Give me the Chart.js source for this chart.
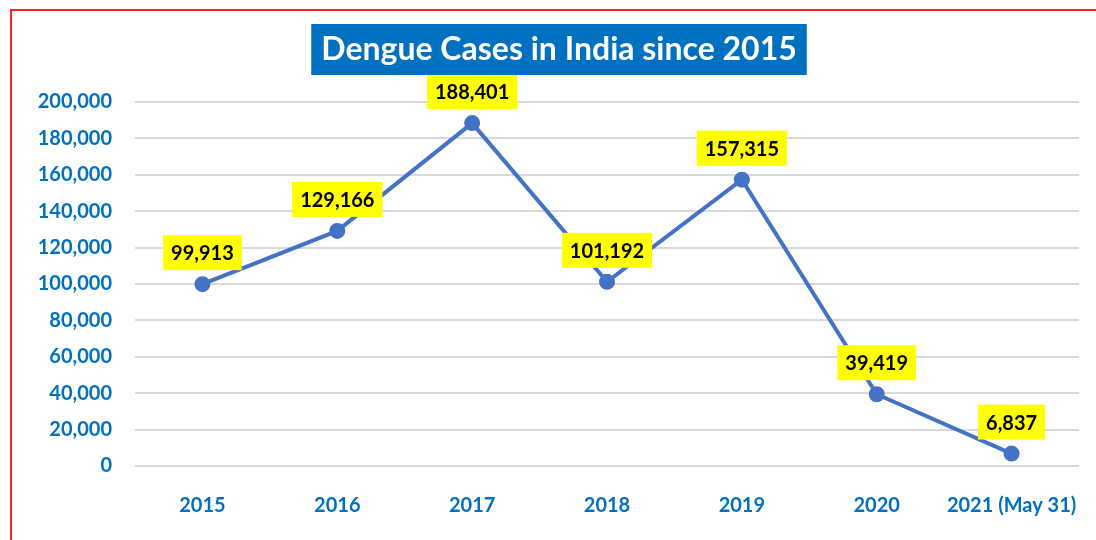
<!DOCTYPE html>
<html>
<head>
<meta charset="utf-8">
<script src="https://cdn.jsdelivr.net/npm/chart.js@4"></script>
<style>
  html, body { margin: 0; padding: 0; background: #fff; overflow: hidden; }
  #frame { position: absolute; left: 10px; top: 9px; width: 1200px; height: 700px;
           border-left: 2px solid #ff2020; border-top: 2px solid #ff2020; }
  #wrap { position: absolute; left: 0; top: 0; width: 1096px; height: 540px; }
</style>
</head>
<body>
<div id="frame"></div>
<div id="wrap"><canvas id="myChart" width="1096" height="540"></canvas></div>
<script>
// chart data
const years = ['2015', '2016', '2017', '2018', '2019', '2020', '2021 (May 31)'];
const cases = [99913, 129166, 188401, 101192, 157315, 39419, 6837];
const yTicks = [0, 20000, 40000, 60000, 80000, 100000, 120000, 140000, 160000, 180000, 200000];
const chartTitle = 'Dengue Cases in India since 2015';

const blue = '#0070C0';
const lineBlue = '#4472C4';
const fontFam = 'Lato, "Open Sans", sans-serif';

const fmt = v => v.toLocaleString('en-US');

// yellow boxes above points
const labelBoxes = {
  id: 'labelBoxes',
  afterDatasetsDraw(chart) {
    const ctx = chart.ctx;
    const meta = chart.getDatasetMeta(0);
    ctx.save();
    ctx.font = 'bold 20px ' + fontFam;
    ctx.textAlign = 'center';
    ctx.textBaseline = 'middle';
    meta.data.forEach((pt, i) => {
      const txt = fmt(cases[i]);
      const w = ctx.measureText(txt).width + 16;
      const h = 35;
      const bottom = pt.y - 14;
      ctx.fillStyle = '#FFFF00';
      ctx.fillRect(pt.x - w / 2, bottom - h, w, h);
      ctx.fillStyle = '#000';
      ctx.fillText(txt, pt.x, bottom - h / 2 + 1);
    });
    ctx.restore();
  }
};

// title with blue background
const titleBox = {
  id: 'titleBox',
  afterDraw(chart) {
    const ctx = chart.ctx;
    ctx.save();
    ctx.font = 'bold 32px ' + fontFam;
    const tw = ctx.measureText(chartTitle).width;
    const cx = 559;
    const w = tw + 20;
    ctx.fillStyle = blue;
    ctx.fillRect(cx - w / 2, 24, w, 51);
    ctx.fillStyle = '#fff';
    ctx.textAlign = 'center';
    ctx.textBaseline = 'middle';
    ctx.fillText(chartTitle, cx, 50);
    ctx.restore();
  }
};

const config = {
  type: 'line',
  data: {
    labels: years,
    datasets: [{
      label: 'Dengue Cases',
      data: cases,
      borderColor: lineBlue,
      backgroundColor: lineBlue,
      borderWidth: 4,
      pointRadius: 6,
      pointHoverRadius: 6,
      pointBackgroundColor: lineBlue,
      pointBorderColor: lineBlue,
      tension: 0
    }]
  },
  options: {
    responsive: false,
    animation: false,
    events: [],
    layout: { padding: { top: 102, right: 17, bottom: 0, left: 0 } },
    plugins: {
      legend: { display: false },
      title: { display: false },
      tooltip: { enabled: false }
    },
    scales: {
      x: {
        offset: true,
        grid: { display: false, drawTicks: false },
        border: { display: false },
        ticks: { color: blue, font: { family: fontFam, size: 20, weight: 'bold' }, padding: 28, maxRotation: 0, autoSkip: false },
        afterFit(scale) {
          scale.height = 74;
          scale.paddingLeft = 0;
          scale.paddingRight = 0;
        }
      },
      y: {
        min: 0,
        max: 200000,
        afterBuildTicks(scale) { scale.ticks = yTicks.map(v => ({ value: v })); },
        grid: { color: '#d9d9d9', lineWidth: 2, drawTicks: false },
        border: { display: false },
        ticks: { color: blue, font: { family: fontFam, size: 20, weight: 'bold' }, padding: 23, callback: v => fmt(v) },
        afterFit(scale) { scale.width = 135; }
      }
    }
  },
  plugins: [labelBoxes, titleBox]
};

new Chart(document.getElementById('myChart'), config);
</script>
</body>
</html>
